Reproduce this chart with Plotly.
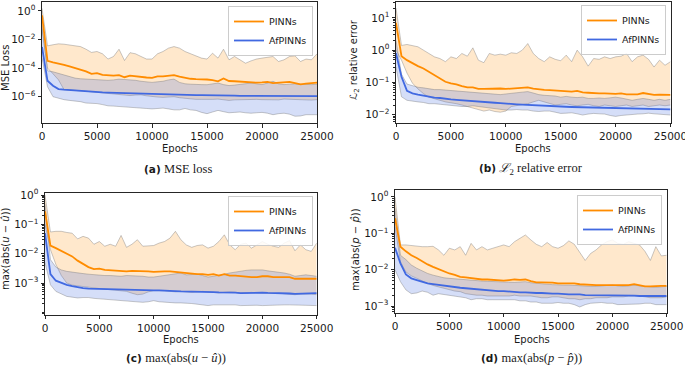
import plotly.graph_objects as go

EPOCHS = [0, 500, 1000, 1500, 2000, 2500, 3000, 3500, 4000, 4500, 5000, 5500, 6000, 6500, 7000, 7500,
          8000, 8500, 9000, 9500, 10000, 10500, 11000, 11500, 12000, 12500, 13000, 13500, 14000, 14500,
          15000, 15500, 16000, 16500, 17000, 17500, 18000, 18500, 19000, 19500, 20000, 20500, 21000,
          21500, 22000, 22500, 23000, 23500, 24000, 24500, 25000]
X_TICKS = [0, 5000, 10000, 15000, 20000, 25000]
SERIES_NAMES = ["PINNs", "AfPINNs"]

# ---------------- (a) MSE loss ----------------
A_PINN_MEAN = [5e-1, 3.2e-4, 2.5e-4, 2.1e-4, 1.7e-4, 1.3e-4, 1.0e-4, 8.5e-5, 5.9e-5, 4.0e-5, 4.5e-5, 3.4e-5,
               3.2e-5, 3.0e-5, 3.2e-5, 2.3e-5, 3.0e-5, 2.6e-5, 2.3e-5, 2.2e-5, 2.1e-5, 2.6e-5, 2.6e-5, 2.8e-5,
               3.2e-5, 2.5e-5, 2.0e-5, 1.8e-5, 1.7e-5, 1.7e-5, 1.6e-5, 1.45e-5, 1.2e-5, 1.9e-5, 1.25e-5, 1.2e-5,
               1.1e-5, 1.05e-5, 9.5e-6, 9.5e-6, 1.0e-5, 1.1e-5, 8.9e-6, 9.5e-6, 9.5e-6, 1.1e-5, 8.9e-6, 7.2e-6,
               8.1e-6, 8.5e-6, 9.5e-6]
A_PINN_UP = [1.5, 3.6e-3, 4.3e-3, 5e-3, 4.7e-3, 4.3e-3, 3.8e-3, 3.2e-3, 2.1e-3, 1.25e-3, 1.45e-3, 1.0e-3,
             4.3e-4, 6.5e-4, 2.1e-3, 3.4e-4, 1.2e-3, 1.0e-3, 6.5e-4, 4.3e-4, 4.3e-4, 1.0e-3, 1.45e-3, 2.5e-3,
             3.2e-3, 2.5e-3, 1.45e-3, 1.0e-3, 6.5e-4, 5e-4, 4.3e-4, 1.1e-3, 5e-4, 2.1e-3, 3.8e-4, 6.5e-4,
             3.8e-4, 2.2e-4, 3.2e-4, 4.3e-4, 5e-4, 5.9e-4, 6.5e-4, 2.9e-4, 3.8e-4, 6.5e-4, 7.2e-4, 2.9e-4,
             4.3e-4, 3.8e-4, 1.0e-3]
A_PINN_LO = [5e-2, 1.0e-4, 4e-5, 1.5e-5, 3.1e-6, 3e-6, 2.8e-6, 2.6e-6, 2.4e-6, 2.2e-6, 2.0e-6, 1.8e-6,
             1.6e-6, 1.5e-6, 1.35e-6, 1.3e-6, 1.2e-6, 1.3e-6, 1.35e-6, 1.15e-6, 1.0e-6, 9.5e-7, 9e-7, 9.5e-7,
             1e-6, 8.5e-7, 7.5e-7, 7e-7, 6.5e-7, 6.5e-7, 6.2e-7, 6.5e-7, 6.8e-7, 6e-7, 5.5e-7, 6e-7,
             6.2e-7, 6.5e-7, 6.8e-7, 6.5e-7, 6.2e-7, 6e-7, 5.5e-7, 6e-7, 6.8e-7, 6.5e-7, 6.2e-7, 6e-7,
             5.5e-7, 5.8e-7, 6.2e-7]
A_AFP_MEAN = [3e-3, 1.3e-5, 5.9e-6, 3.4e-6, 3.1e-6, 2.9e-6, 2.5e-6, 2.4e-6, 2.3e-6, 2.2e-6, 2.1e-6, 2.0e-6,
              1.95e-6, 1.9e-6, 1.8e-6, 1.75e-6, 1.7e-6, 1.65e-6, 1.6e-6, 1.5e-6, 1.45e-6, 1.45e-6, 1.45e-6,
              1.4e-6, 1.4e-6, 1.35e-6, 1.3e-6, 1.3e-6, 1.3e-6, 1.3e-6, 1.3e-6, 1.25e-6, 1.2e-6, 1.2e-6,
              1.2e-6, 1.2e-6, 1.15e-6, 1.15e-6, 1.15e-6, 1.1e-6, 1.1e-6, 1.1e-6, 1.1e-6, 1.1e-6, 1.1e-6,
              1.1e-6, 1.1e-6, 1.1e-6, 1.1e-6, 1.1e-6, 1.1e-6]
A_AFP_UP = [1e-1, 6.5e-5, 5.5e-5, 4.2e-5, 3.4e-5, 2.5e-5, 2.0e-5, 1.8e-5, 1.7e-5, 1.6e-5, 1.55e-5, 1.5e-5,
            1.4e-5, 1.5e-5, 1.7e-5, 1.6e-5, 1.55e-5, 1.4e-5, 1.2e-5, 1.1e-5, 1.0e-5, 1.1e-5, 1.2e-5, 1.5e-5,
            1.7e-5, 1.0e-5, 8e-6, 7.5e-6, 6.9e-6, 7e-6, 6.9e-6, 8e-6, 9e-6, 7e-6, 6e-6, 6.5e-6, 7e-6, 8e-6,
            9e-6, 8e-6, 7e-6, 9e-6, 1.2e-5, 8e-6, 7e-6, 7.5e-6, 8e-6, 7.5e-6, 7e-6, 7e-6, 7.5e-6]
A_AFP_LO = [5e-4, 5e-6, 1.0e-6, 7.5e-7, 6.2e-7, 5.5e-7, 5e-7, 4.5e-7, 3.6e-7, 3.5e-7, 3.3e-7, 2.8e-7,
            2.3e-7, 2.2e-7, 2.1e-7, 2.0e-7, 1.9e-7, 1.8e-7, 1.6e-7, 1.5e-7, 1.4e-7, 1.5e-7, 1.6e-7, 1.4e-7,
            1.2e-7, 1.2e-7, 1.5e-7, 1.2e-7, 1.1e-7, 8e-8, 6.5e-8, 8.5e-8, 1.1e-7, 9e-8, 7.5e-8, 8e-8,
            8.5e-8, 7.5e-8, 7e-8, 7.5e-8, 8e-8, 7e-8, 5.5e-8, 6.5e-8, 7e-8, 6e-8, 4.3e-8, 4.5e-8, 5.5e-8,
            5.5e-8, 5.5e-8]

# ---------------- (b) L2 relative error ----------------
B_PINN_MEAN = [7, 0.65, 0.49, 0.39, 0.32, 0.27, 0.21, 0.17, 0.13, 0.105, 0.093, 0.087, 0.077, 0.07, 0.07,
               0.063, 0.063, 0.064, 0.063, 0.065, 0.063, 0.064, 0.065, 0.067, 0.07, 0.064, 0.06, 0.059, 0.058,
               0.057, 0.055, 0.054, 0.052, 0.055, 0.049, 0.048, 0.046, 0.046, 0.046, 0.045, 0.044, 0.046,
               0.043, 0.043, 0.043, 0.047, 0.044, 0.041, 0.042, 0.042, 0.041]
B_PINN_UP = [20, 1.4, 1.5, 1.4, 1.27, 1.0, 0.79, 0.62, 0.55, 0.44, 0.62, 0.55, 0.79, 0.65, 1.18, 0.49,
             0.41, 0.79, 0.7, 0.75, 0.7, 0.83, 0.79, 1.0, 1.6, 0.79, 0.55, 0.44, 0.62, 0.52, 0.47, 0.7, 0.44,
             1.0, 0.62, 0.32, 0.55, 0.52, 0.62, 0.55, 0.62, 0.65, 0.79, 0.44, 0.62, 0.7, 0.52, 0.3, 0.49,
             0.34, 0.44]
B_PINN_LO = [1.0, 0.49, 0.195, 0.095, 0.063, 0.045, 0.035, 0.032, 0.028, 0.025, 0.024, 0.022, 0.02, 0.018,
             0.016, 0.014, 0.013, 0.014, 0.0126, 0.012, 0.013, 0.018, 0.019, 0.021, 0.022, 0.025, 0.028,
             0.025, 0.022, 0.02, 0.021, 0.022, 0.02, 0.019, 0.02, 0.021, 0.019, 0.018, 0.02, 0.019, 0.018,
             0.019, 0.02, 0.018, 0.019, 0.02, 0.018, 0.019, 0.02, 0.019, 0.02]
B_AFP_MEAN = [0.8, 0.15, 0.055, 0.046, 0.042, 0.039, 0.036, 0.034, 0.033, 0.031, 0.030, 0.029, 0.028,
              0.027, 0.026, 0.0255, 0.025, 0.024, 0.0235, 0.023, 0.022, 0.0215, 0.021, 0.0205, 0.020,
              0.0195, 0.019, 0.0187, 0.0184, 0.0182, 0.018, 0.0177, 0.0174, 0.0172, 0.017, 0.0168, 0.0166,
              0.0164, 0.0162, 0.016, 0.016, 0.0158, 0.0156, 0.0154, 0.0152, 0.0151, 0.015, 0.0149, 0.0148,
              0.0147, 0.0146]
B_AFP_UP = [2.0, 0.18, 0.089, 0.079, 0.071, 0.068, 0.063, 0.06, 0.06, 0.058, 0.055, 0.054, 0.052, 0.052,
            0.05, 0.048, 0.047, 0.044, 0.042, 0.042, 0.044, 0.047, 0.048, 0.05, 0.052, 0.047, 0.042, 0.04,
            0.04, 0.038, 0.035, 0.037, 0.035, 0.034, 0.035, 0.032, 0.032, 0.033, 0.032, 0.034, 0.035, 0.033,
            0.03, 0.028, 0.03, 0.032, 0.03, 0.028, 0.03, 0.028, 0.03]
B_AFP_LO = [0.3, 0.036, 0.028, 0.026, 0.025, 0.024, 0.022, 0.022, 0.021, 0.02, 0.019, 0.018, 0.018, 0.018,
            0.019, 0.018, 0.017, 0.0166, 0.016, 0.015, 0.014, 0.014, 0.0145, 0.014, 0.014, 0.013, 0.0126,
            0.013, 0.013, 0.012, 0.011, 0.0112, 0.0115, 0.0107, 0.0098, 0.0105, 0.011, 0.0107, 0.0105,
            0.0095, 0.0089, 0.0095, 0.01, 0.0102, 0.0105, 0.0107, 0.0112, 0.0107, 0.0105, 0.01, 0.0098]

# ---------------- (c) max(abs(u - u_hat)) ----------------
C_PINN_MEAN = [0.28, 0.019, 0.0155, 0.0126, 0.0105, 0.0081, 0.0058, 0.0045, 0.0035, 0.003, 0.0031, 0.0028,
               0.0027, 0.0026, 0.0026, 0.0025, 0.0026, 0.0026, 0.0025, 0.0025, 0.0024, 0.0025, 0.0025,
               0.0025, 0.0024, 0.0023, 0.0021, 0.0021, 0.002, 0.002, 0.0019, 0.002, 0.0018, 0.002, 0.0018,
               0.0018, 0.0017, 0.0017, 0.0016, 0.0016, 0.0017, 0.0017, 0.0016, 0.0016, 0.0016, 0.0016,
               0.0014, 0.0014, 0.0014, 0.0014, 0.0014]
C_PINN_UP = [1.0, 0.055, 0.058, 0.058, 0.053, 0.05, 0.032, 0.039, 0.034, 0.021, 0.026, 0.018, 0.021, 0.018,
             0.042, 0.0165, 0.021, 0.03, 0.018, 0.019, 0.019, 0.023, 0.026, 0.034, 0.058, 0.03, 0.02, 0.0165,
             0.019, 0.02, 0.0155, 0.018, 0.026, 0.044, 0.02, 0.0137, 0.021, 0.023, 0.0155, 0.02, 0.026,
             0.021, 0.018, 0.0165, 0.023, 0.028, 0.0126, 0.02, 0.0137, 0.012, 0.023]
C_PINN_LO = [0.1, 0.0138, 0.0043, 0.0018, 0.001, 8.5e-4, 8e-4, 7.5e-4, 7e-4, 6.8e-4, 6.5e-4, 6.2e-4, 6e-4,
             5.8e-4, 5.5e-4, 5.2e-4, 4.5e-4, 4e-4, 4.2e-4, 5e-4, 5.5e-4, 5.6e-4, 5.5e-4, 5.2e-4, 5e-4,
             5.2e-4, 5e-4, 4.8e-4, 5e-4, 5.2e-4, 5e-4, 4.8e-4, 4.6e-4, 4.8e-4, 5e-4, 4.8e-4, 4.5e-4, 4.6e-4,
             4.8e-4, 4.6e-4, 4.5e-4, 4.3e-4, 4.4e-4, 4.5e-4, 4.3e-4, 4.2e-4, 4e-4, 4.2e-4, 4.3e-4, 4.2e-4,
             4.0e-4]
C_AFP_MEAN = [0.05, 0.002, 0.0012, 0.001, 8.7e-4, 7.8e-4, 7.1e-4, 6.7e-4, 6.4e-4, 6.3e-4, 6.3e-4, 6.2e-4,
              6.1e-4, 6.0e-4, 5.9e-4, 5.9e-4, 5.9e-4, 5.8e-4, 5.7e-4, 5.7e-4, 5.6e-4, 5.6e-4, 5.6e-4, 5.4e-4,
              5.3e-4, 5.2e-4, 5.2e-4, 5.1e-4, 5.0e-4, 5.0e-4, 4.9e-4, 4.9e-4, 4.8e-4, 4.8e-4, 4.8e-4,
              4.7e-4, 4.5e-4, 4.6e-4, 4.7e-4, 4.7e-4, 4.7e-4, 4.6e-4, 4.6e-4, 4.5e-4, 4.5e-4, 4.4e-4,
              4.3e-4, 4.4e-4, 4.4e-4, 4.5e-4, 4.5e-4]
C_AFP_UP = [0.5, 0.0063, 0.0035, 0.0028, 0.0025, 0.0024, 0.0022, 0.0021, 0.002, 0.0019, 0.0018, 0.0018,
            0.0018, 0.0017, 0.0017, 0.0018, 0.0018, 0.0017, 0.0017, 0.0016, 0.0016, 0.0017, 0.0018, 0.0019,
            0.002, 0.0022, 0.0019, 0.002, 0.002, 0.0018, 0.0016, 0.0017, 0.0018, 0.002, 0.0022, 0.0024,
            0.0026, 0.0027, 0.0028, 0.0028, 0.0028, 0.0026, 0.0025, 0.0023, 0.0022, 0.002, 0.0017, 0.0018,
            0.0019, 0.0018, 0.0017]
C_AFP_LO = [0.005, 8.7e-4, 5.2e-4, 4.2e-4, 3.5e-4, 3.3e-4, 3.1e-4, 3.2e-4, 3.2e-4, 3.0e-4, 2.9e-4, 2.8e-4,
            2.7e-4, 2.6e-4, 2.5e-4, 2.5e-4, 2.4e-4, 2.3e-4, 2.2e-4, 2.3e-4, 2.5e-4, 2.3e-4, 2.2e-4, 2.2e-4,
            2.1e-4, 2.1e-4, 2.1e-4, 2.0e-4, 1.9e-4, 1.8e-4, 1.7e-4, 1.8e-4, 1.8e-4, 1.85e-4, 1.9e-4, 1.8e-4,
            1.7e-4, 1.75e-4, 1.8e-4, 1.75e-4, 1.7e-4, 1.75e-4, 1.8e-4, 1.8e-4, 1.8e-4, 1.8e-4, 1.8e-4,
            1.75e-4, 1.7e-4, 1.7e-4, 1.7e-4]

# ---------------- (d) max(abs(p - p_hat)) ----------------
D_PINN_MEAN = [0.26, 0.043, 0.032, 0.025, 0.021, 0.017, 0.014, 0.012, 0.0104, 0.0088, 0.0079, 0.0072,
               0.0064, 0.0062, 0.0059, 0.0057, 0.0054, 0.0054, 0.0052, 0.0052, 0.005, 0.0052, 0.0054, 0.0053,
               0.0054, 0.0049, 0.0045, 0.0045, 0.0045, 0.0044, 0.0042, 0.0042, 0.0041, 0.0042, 0.004, 0.0039,
               0.0038, 0.0038, 0.0038, 0.0038, 0.0038, 0.0038, 0.0038, 0.0038, 0.004, 0.0037, 0.0035,
               0.0035, 0.0036, 0.0036, 0.0036]
D_PINN_UP = [1.0, 0.048, 0.048, 0.046, 0.045, 0.043, 0.043, 0.044, 0.035, 0.025, 0.039, 0.035, 0.043, 0.025,
             0.053, 0.035, 0.043, 0.035, 0.039, 0.043, 0.048, 0.043, 0.059, 0.073, 0.09, 0.066, 0.05, 0.043,
             0.056, 0.043, 0.039, 0.046, 0.062, 0.05, 0.03, 0.018, 0.028, 0.035, 0.048, 0.059, 0.066, 0.053,
             0.05, 0.059, 0.053, 0.048, 0.032, 0.018, 0.043, 0.024, 0.025]
D_PINN_LO = [0.15, 0.0166, 0.0087, 0.0068, 0.0058, 0.0049, 0.0042, 0.0037, 0.0034, 0.003, 0.0028, 0.0026,
             0.0025, 0.0022, 0.0021, 0.002, 0.002, 0.0019, 0.0019, 0.0019, 0.0019, 0.0019, 0.002, 0.0019,
             0.0019, 0.0019, 0.0018, 0.0017, 0.0017, 0.0018, 0.0018, 0.0017, 0.0016, 0.0016, 0.0015, 0.0016,
             0.0016, 0.0017, 0.0017, 0.0017, 0.0018, 0.0018, 0.0018, 0.0019, 0.0019, 0.0019, 0.0018,
             0.0017, 0.0017, 0.0017, 0.0018]
D_AFP_MEAN = [0.04, 0.015, 0.0074, 0.0058, 0.0052, 0.0047, 0.0042, 0.004, 0.0038, 0.0036, 0.0034, 0.0033,
              0.0032, 0.0031, 0.003, 0.0029, 0.0028, 0.0027, 0.0027, 0.0026, 0.0026, 0.0025, 0.0025, 0.0024,
              0.0024, 0.0023, 0.0023, 0.0023, 0.0022, 0.0022, 0.0022, 0.0021, 0.0021, 0.0021, 0.0021, 0.002,
              0.002, 0.002, 0.002, 0.002, 0.002, 0.002, 0.00195, 0.00195, 0.00195, 0.0019, 0.0019, 0.0019,
              0.0019, 0.0019, 0.0019]
D_AFP_UP = [0.5, 0.025, 0.019, 0.0135, 0.011, 0.0092, 0.0079, 0.0071, 0.0064, 0.006, 0.0058, 0.0056,
            0.0055, 0.0053, 0.0052, 0.005, 0.0049, 0.0048, 0.0047, 0.0046, 0.0045, 0.0045, 0.0045, 0.0046,
            0.0047, 0.0044, 0.0042, 0.0041, 0.004, 0.0039, 0.0038, 0.0038, 0.0038, 0.0037, 0.0036, 0.0036,
            0.0035, 0.0035, 0.0036, 0.0037, 0.0038, 0.0036, 0.0035, 0.0036, 0.0038, 0.0036, 0.0035, 0.0034,
            0.0033, 0.0034, 0.0035]
D_AFP_LO = [0.01, 0.0047, 0.0028, 0.0022, 0.0023, 0.0026, 0.0024, 0.002, 0.0022, 0.0021, 0.002, 0.0019,
            0.0018, 0.0017, 0.0015, 0.0016, 0.0016, 0.0015, 0.0015, 0.0015, 0.0015, 0.0015, 0.0015, 0.0014,
            0.0014, 0.0013, 0.0013, 0.0012, 0.0012, 0.0012, 0.00126, 0.0012, 0.0012, 0.0011, 0.00095,
            0.0011, 0.0012, 0.00125, 0.00126, 0.0012, 0.0012, 0.0011, 0.0011, 0.0011, 0.0011, 0.00115,
            0.0012, 0.0012, 0.0011, 0.0011, 0.0011]

ALL = [A_PINN_MEAN, A_PINN_UP, A_PINN_LO, A_AFP_MEAN, A_AFP_UP, A_AFP_LO,
       B_PINN_MEAN, B_PINN_UP, B_PINN_LO, B_AFP_MEAN, B_AFP_UP, B_AFP_LO,
       C_PINN_MEAN, C_PINN_UP, C_PINN_LO, C_AFP_MEAN, C_AFP_UP, C_AFP_LO,
       D_PINN_MEAN, D_PINN_UP, D_PINN_LO, D_AFP_MEAN, D_AFP_UP, D_AFP_LO]
for k, arr in enumerate(ALL):
    assert len(arr) == len(EPOCHS), f"array {k} has {len(arr)} entries"

ORANGE = "#ff8c00"
BLUE = "#4169e1"
ORANGE_FILL = "rgba(255,140,0,0.2)"
BLUE_FILL = "rgba(65,105,225,0.22)"
EDGE = "rgba(120,120,120,0.4)"
FRAME = "#262626"
TXT = "#1a1a1a"
W, H = 685, 365
TICK_SIZE = 10.5

panels = [
    dict(data=(A_PINN_MEAN, A_PINN_UP, A_PINN_LO, A_AFP_MEAN, A_AFP_UP, A_AFP_LO),
         xdom=(42, 317), ydom=(1.5, 123), yrange=(-7.84, 0.66),
         yt=[1, 1e-2, 1e-4, 1e-6], ytt=["10<sup>0</sup>", "10<sup>−2</sup>", "10<sup>−4</sup>", "10<sup>−6</sup>"],
         minor=False, ytitle="MSE Loss", ytitle_xy=(5, 68), epochs_xy=(180, 148),
         cap="<b>(a)</b> <span style='font-family:Liberation Serif;font-size:12.5px'>MSE loss</span>",
         cap_xy=(178, 169), legend_xy=(313, 6)),
    dict(data=(B_PINN_MEAN, B_PINN_UP, B_PINN_LO, B_AFP_MEAN, B_AFP_UP, B_AFP_LO),
         xdom=(396, 670.5), ydom=(1.7, 122.5), yrange=(-2.24, 1.5),
         yt=[10, 1, 0.1, 0.01], ytt=["10<sup>1</sup>", "10<sup>0</sup>", "10<sup>−1</sup>", "10<sup>−2</sup>"],
         minor=True, ytitle="<i>ℒ</i><sub>2</sub> relative error", ytitle_xy=(354, 60), epochs_xy=(533, 148),
         cap="<b>(b)</b> <span style='font-family:Liberation Serif;font-size:12.5px'><i>ℒ</i><sub>2</sub> relative error</span>",
         cap_xy=(531, 169), legend_xy=(666, 5)),
    dict(data=(C_PINN_MEAN, C_PINN_UP, C_PINN_LO, C_AFP_MEAN, C_AFP_UP, C_AFP_LO),
         xdom=(45, 316.7), ydom=(193, 314.7), yrange=(-4.08, 0.07),
         yt=[1, 0.1, 0.01, 0.001], ytt=["10<sup>0</sup>", "10<sup>−1</sup>", "10<sup>−2</sup>", "10<sup>−3</sup>"],
         minor=True, ytitle="max(abs(<i>u</i> − <i>û</i>))", ytitle_xy=(5, 249), epochs_xy=(181, 339),
         cap="<b>(c)</b> <span style='font-family:Liberation Serif;font-size:12.5px'>max(abs(<i>u</i> − <i>û</i>))</span>",
         cap_xy=(176, 358), legend_xy=(313, 196)),
    dict(data=(D_PINN_MEAN, D_PINN_UP, D_PINN_LO, D_AFP_MEAN, D_AFP_UP, D_AFP_LO),
         xdom=(395, 666.7), ydom=(190, 312.7), yrange=(-3.18, 0.19),
         yt=[1, 0.1, 0.01, 0.001], ytt=["10<sup>0</sup>", "10<sup>−1</sup>", "10<sup>−2</sup>", "10<sup>−3</sup>"],
         minor=True, ytitle="max(abs(<i>p</i> − <i>p̂</i>))", ytitle_xy=(355, 250), epochs_xy=(532, 339),
         cap="<b>(d)</b> <span style='font-family:Liberation Serif;font-size:12.5px'>max(abs(<i>p</i> − <i>p̂</i>))</span>",
         cap_xy=(531, 358), legend_xy=(662, 195)),
]

fig = go.Figure()
layout = dict(width=W, height=H, margin=dict(l=0, r=0, t=0, b=0, pad=0, autoexpand=False),
              paper_bgcolor="white", plot_bgcolor="white",
              font=dict(family="DejaVu Sans", size=10, color=TXT),
              hovermode=False, annotations=[])

for i, p in enumerate(panels):
    n = "" if i == 0 else str(i + 1)
    xa, ya = "x" + n, "y" + n
    leg = "legend" + n
    pm, pu, pl, am, au, al = p["data"]
    for lo, up, fc in ((pl, pu, ORANGE_FILL), (al, au, BLUE_FILL)):
        fig.add_trace(go.Scatter(x=EPOCHS, y=lo, mode="lines", line=dict(color=EDGE, width=1),
                                 xaxis=xa, yaxis=ya, showlegend=False, hoverinfo="skip"))
        fig.add_trace(go.Scatter(x=EPOCHS, y=up, mode="lines", line=dict(color=EDGE, width=1),
                                 fill="tonexty", fillcolor=fc, xaxis=xa, yaxis=ya,
                                 showlegend=False, hoverinfo="skip"))
    for ys, col, name in ((pm, ORANGE, SERIES_NAMES[0]), (am, BLUE, SERIES_NAMES[1])):
        fig.add_trace(go.Scatter(x=EPOCHS, y=ys, mode="lines", line=dict(color=col, width=1.8),
                                 name=name, xaxis=xa, yaxis=ya, legend=leg, showlegend=True))

    x0, x1 = p["xdom"]
    y0, y1 = p["ydom"]
    layout["xaxis" + n] = dict(domain=[x0 / W, x1 / W], anchor=ya, range=[0, 25000],
                               tickmode="array", tickvals=X_TICKS, ticktext=[str(t) for t in X_TICKS],
                               showline=True, mirror=True, linecolor=FRAME, linewidth=1,
                               ticks="outside", ticklen=3.5, tickcolor=FRAME, tickwidth=1,
                               showgrid=False, zeroline=False, automargin=False,
                               ticklabeloverflow="allow",
                               tickfont=dict(family="DejaVu Sans", size=TICK_SIZE, color=TXT))
    yax = dict(domain=[1 - y1 / H, 1 - y0 / H], anchor=xa, type="log", range=list(p["yrange"]),
               tickmode="array", tickvals=p["yt"], ticktext=p["ytt"],
               showline=True, mirror=True, linecolor=FRAME, linewidth=1,
               ticks="outside", ticklen=3.5, tickcolor=FRAME, tickwidth=1,
               showgrid=False, zeroline=False, automargin=False, ticklabeloverflow="allow",
               tickfont=dict(family="DejaVu Sans", size=TICK_SIZE, color=TXT))
    if p["minor"]:
        yax["minor"] = dict(ticks="outside", ticklen=2, tickcolor=FRAME, tickwidth=0.8,
                            dtick="D1", showgrid=False)
    layout["yaxis" + n] = yax

    lx, ly = p["legend_xy"]
    layout[leg] = dict(x=lx / W, y=1 - ly / H, xanchor="right", yanchor="top",
                       bgcolor="rgba(255,255,255,0.85)", bordercolor="#cccccc", borderwidth=1,
                       font=dict(family="DejaVu Sans", size=9.5, color=TXT),
                       traceorder="normal", tracegroupgap=0, itemwidth=30)

    tx, ty = p["ytitle_xy"]
    layout["annotations"].append(dict(x=tx / W, y=1 - ty / H, xref="paper", yref="paper",
                                      text=p["ytitle"], textangle=-90, showarrow=False,
                                      xanchor="center", yanchor="middle",
                                      font=dict(family="DejaVu Sans", size=10, color=TXT)))
    ex, ey = p["epochs_xy"]
    layout["annotations"].append(dict(x=ex / W, y=1 - ey / H, xref="paper", yref="paper",
                                      text="Epochs", showarrow=False, xanchor="center", yanchor="middle",
                                      font=dict(family="DejaVu Sans", size=10, color=TXT)))
    cx, cy = p["cap_xy"]
    layout["annotations"].append(dict(x=cx / W, y=1 - cy / H, xref="paper", yref="paper",
                                      text=p["cap"], showarrow=False, xanchor="center", yanchor="middle",
                                      font=dict(family="DejaVu Sans", size=10.5, color=TXT)))

fig.update_layout(**layout)
fig.write_html("out.html", config={"displayModeBar": False},
               post_script="document.body.style.margin='0px';document.body.style.overflow='hidden';")
